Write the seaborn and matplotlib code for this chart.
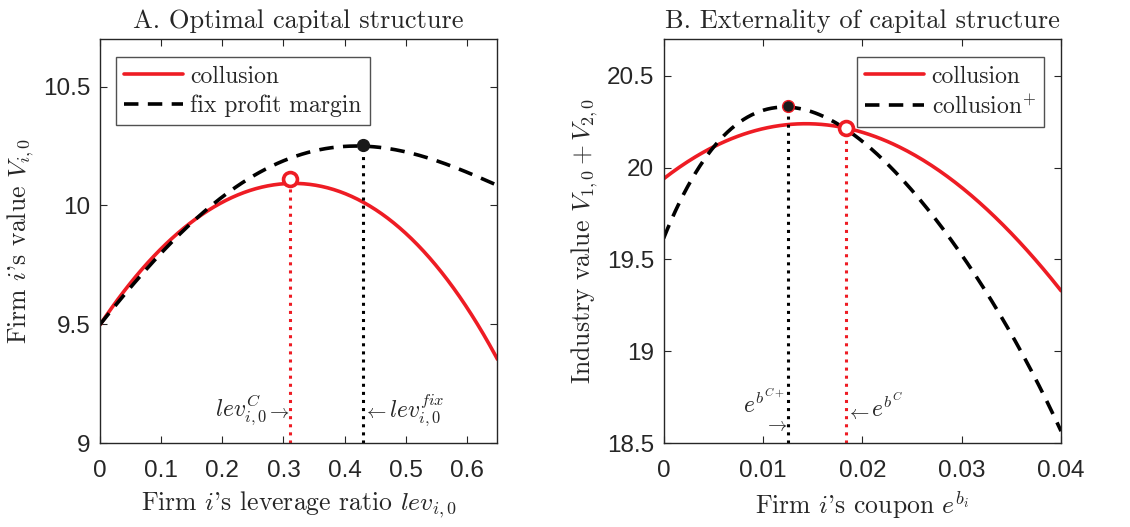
import numpy as np
import pandas as pd
import matplotlib
matplotlib.use("Agg")
import matplotlib.pyplot as plt
import seaborn as sns

# Panel A: firm value against leverage
lev = [0.0, 0.05, 0.10, 0.15, 0.20, 0.25, 0.31, 0.35, 0.40, 0.43, 0.45, 0.50, 0.55, 0.60, 0.65]
v_collusion = [9.50, 9.67, 9.82, 9.93, 10.01, 10.065, 10.105, 10.095, 10.04, 10.005, 9.98, 9.88, 9.76, 9.57, 9.35]
lev_fix = [0.0, 0.05, 0.10, 0.15, 0.20, 0.257, 0.30, 0.35, 0.43, 0.50, 0.55, 0.60, 0.65]
v_fix = [9.50, 9.65, 9.81, 9.925, 10.03, 10.135, 10.19, 10.225, 10.255, 10.225, 10.185, 10.14, 10.085]
opt_a = {"collusion": (0.31, 10.11), "fix": (0.43, 10.255)}

# Panel B: industry value against coupon
coupon = [0.0, 0.005, 0.010, 0.0135, 0.0185, 0.020, 0.025, 0.030, 0.035, 0.040]
ind_collusion = [19.94, 20.11, 20.21, 20.245, 20.215, 20.185, 20.076, 19.895, 19.64, 19.33]
coupon_plus = [0.0, 0.0025, 0.005, 0.0075, 0.010, 0.0125, 0.015, 0.0185, 0.020, 0.025, 0.030, 0.035, 0.040]
ind_plus = [19.61, 19.915, 20.105, 20.24, 20.31, 20.335, 20.31, 20.19, 20.13, 19.895, 19.53, 19.08, 18.57]
opt_b = {"collusion": (0.0184, 20.215), "plus": (0.0125, 20.335)}

RED = "#ee1c24"
GREY = "#262626"

sns.set_style("ticks")
plt.rcParams["mathtext.fontset"] = "cm"
plt.rcParams["font.family"] = ["Liberation Sans", "DejaVu Sans"]
serif = ["cmr10", "DejaVu Serif"]
DASH = (0, (4, 2.6))


def smooth(x, y, n=200):
    # smooth curve through the read points
    xs = np.linspace(x[0], x[-1], n)
    coef = np.polyfit(x, y, 4)
    return xs, np.polyval(coef, xs)


def note(ax, txt, x, y, dx, ha, size=17):
    ax.annotate(txt, xy=(x, y), xytext=(dx, 0), textcoords="offset points",
                ha=ha, va="center", fontsize=size)


fig, (ax1, ax2) = plt.subplots(1, 2, figsize=(11.3, 5.27), dpi=100)

# ---- Panel A
xs, ys = smooth(lev, v_collusion)
xf, yf = smooth(lev_fix, v_fix)
sns.lineplot(x=xs, y=ys, ax=ax1, color=RED, lw=2.6, label="collusion")
sns.lineplot(x=xf, y=yf, ax=ax1, color="black", lw=2.6, label="fix profit margin", linestyle=DASH)
ax1.plot([opt_a["collusion"][0]] * 2, [9, opt_a["collusion"][1]], ls=":", color=RED, lw=2.2)
ax1.plot([opt_a["fix"][0]] * 2, [9, opt_a["fix"][1]], ls=":", color="black", lw=2.2)
ax1.plot(*opt_a["collusion"], "o", ms=10, mfc="white", mec=RED, mew=2.6)
ax1.plot(*opt_a["fix"], "o", ms=8.5, color="#1a1a1a")
xc, xfix = opt_a["collusion"][0], opt_a["fix"][0]
note(ax1, r"$lev_{i,0}^{C}$", xc, 9.14, -16, "right")
note(ax1, r"$\rightarrow$", xc, 9.125, 0, "right", 14)
note(ax1, r"$\leftarrow$", xfix, 9.125, 0, "left", 14)
note(ax1, r"$lev_{i,0}^{fix}$", xfix, 9.14, 19, "left")
ax1.set_xlim(0, 0.65)
ax1.set_ylim(9, 10.7)
ax1.set_xticks([0, 0.1, 0.2, 0.3, 0.4, 0.5, 0.6])
ax1.set_xticklabels(["0", "0.1", "0.2", "0.3", "0.4", "0.5", "0.6"])
ax1.set_yticks([9, 9.5, 10, 10.5])
ax1.set_yticklabels(["9", "9.5", "10", "10.5"])
ax1.set_title("A. Optimal capital structure", family=serif, fontsize=19, pad=8)
ax1.set_xlabel(r"Firm $i$'s leverage ratio $lev_{i,0}$", family=serif, fontsize=18.5, color=GREY, labelpad=5)
ax1.set_ylabel(r"Firm $i$'s value $V_{i,0}$", family=serif, fontsize=18.5, color=GREY, labelpad=5)
leg1 = ax1.legend(loc="upper left", prop={"family": serif, "size": 17},
                  fancybox=False, edgecolor=GREY, handlelength=2.5, borderpad=0.35,
                  labelspacing=0.3, handletextpad=0.3, borderaxespad=0,
                  bbox_to_anchor=(0.04, 0.955))
leg1.get_frame().set_linewidth(1.0)

# ---- Panel B
xs, ys = smooth(coupon, ind_collusion)
xp, yp = smooth(coupon_plus, ind_plus)
sns.lineplot(x=xs, y=ys, ax=ax2, color=RED, lw=2.6, label="collusion")
sns.lineplot(x=xp, y=yp, ax=ax2, color="black", lw=2.6, label=r"collusion$^{+}$", linestyle=DASH)
ax2.plot([opt_b["plus"][0]] * 2, [18.5, opt_b["plus"][1]], ls=":", color="black", lw=2.2)
ax2.plot([opt_b["collusion"][0]] * 2, [18.5, opt_b["collusion"][1]], ls=":", color=RED, lw=2.2)
ax2.plot(*opt_b["plus"], "o", ms=8.5, mfc="#1a1a1a", mec=RED, mew=1.0)
ax2.plot(*opt_b["collusion"], "o", ms=10, mfc="white", mec=RED, mew=2.6)
xpl, xcb = opt_b["plus"][0], opt_b["collusion"][0]
note(ax2, r"$e^{b^{C+}}$", xpl, 18.715, -1.5, "right")
note(ax2, r"$\rightarrow$", xpl, 18.59, 0, "right", 14)
note(ax2, r"$\leftarrow$", xcb, 18.655, 0, "left", 14)
note(ax2, r"$e^{b^{C}}$", xcb, 18.69, 18, "left")
ax2.set_xlim(0, 0.04)
ax2.set_ylim(18.5, 20.7)
ax2.set_xticks([0, 0.01, 0.02, 0.03, 0.04])
ax2.set_xticklabels(["0", "0.01", "0.02", "0.03", "0.04"])
ax2.set_yticks([18.5, 19, 19.5, 20, 20.5])
ax2.set_yticklabels(["18.5", "19", "19.5", "20", "20.5"])
ax2.set_title("B. Externality of capital structure", family=serif, fontsize=19, pad=8)
ax2.set_xlabel(r"Firm $i$'s coupon $e^{b_i}$", family=serif, fontsize=18.5, color=GREY, labelpad=5)
ax2.set_ylabel(r"Industry value $V_{1,0}+V_{2,0}$", family=serif, fontsize=18.5, color=GREY, labelpad=5)
leg2 = ax2.legend(loc="upper right", prop={"family": serif, "size": 17},
                  fancybox=False, edgecolor=GREY, handlelength=2.5, borderpad=0.35,
                  labelspacing=0.3, handletextpad=0.3, borderaxespad=0,
                  bbox_to_anchor=(0.957, 0.955))
leg2.get_frame().set_linewidth(1.0)

for ax in (ax1, ax2):
    for s in ax.spines.values():
        s.set_visible(True)
        s.set_color(GREY)
        s.set_linewidth(1.0)
    ax.tick_params(direction="in", top=True, right=True, length=5, width=0.8,
                   colors=GREY, labelsize=17.5)
    ax.tick_params(axis="x", pad=12)
    ax.tick_params(axis="y", pad=7)

fig.subplots_adjust(left=0.0885, right=0.939, top=0.926, bottom=0.159, wspace=0.418)
fig.savefig("out.png", dpi=100)
